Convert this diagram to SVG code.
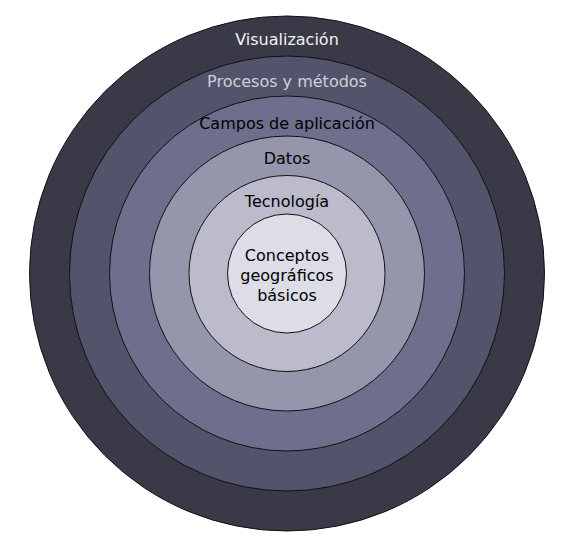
<svg xmlns="http://www.w3.org/2000/svg" width="582" height="548" viewBox="0 0 582 548">
<style>
.ring{stroke:#111;stroke-width:1}
.t{font-family:"DejaVu Sans",sans-serif;font-size:16px;text-anchor:middle;fill:#000}
</style>
<rect width="582" height="548" fill="#fff"/>
<g id="visualizacion">
<circle class="ring" cx="287" cy="273.5" r="257.5" fill="#3a3947"/>
<text class="t" x="287" y="44.5" style="fill:#f2f2f2">Visualización</text>
</g>
<g id="procesos">
<circle class="ring" cx="287" cy="273.5" r="217.5" fill="#53536b"/>
<text class="t" x="287" y="86.5" style="fill:#cfcfd8">Procesos y métodos</text>
</g>
<g id="campos">
<circle class="ring" cx="287" cy="273.5" r="177.5" fill="#6f6f8d"/>
<text class="t" x="287" y="129">Campos de aplicación</text>
</g>
<g id="datos">
<circle class="ring" cx="287" cy="273.5" r="137.5" fill="#9595ab"/>
<text class="t" x="287" y="164">Datos</text>
</g>
<g id="tecnologia">
<circle class="ring" cx="287" cy="273.5" r="98" fill="#bbbbcb"/>
<text class="t" x="287" y="206.7">Tecnología</text>
</g>
<g id="conceptos">
<circle class="ring" cx="287" cy="273.5" r="59.5" fill="#dddde7"/>
<text class="t" x="287" y="260.7">Conceptos</text>
<text class="t" x="287" y="281">geográficos</text>
<text class="t" x="287" y="300.5">básicos</text>
</g>
<g id="connectors"/>
</svg>
